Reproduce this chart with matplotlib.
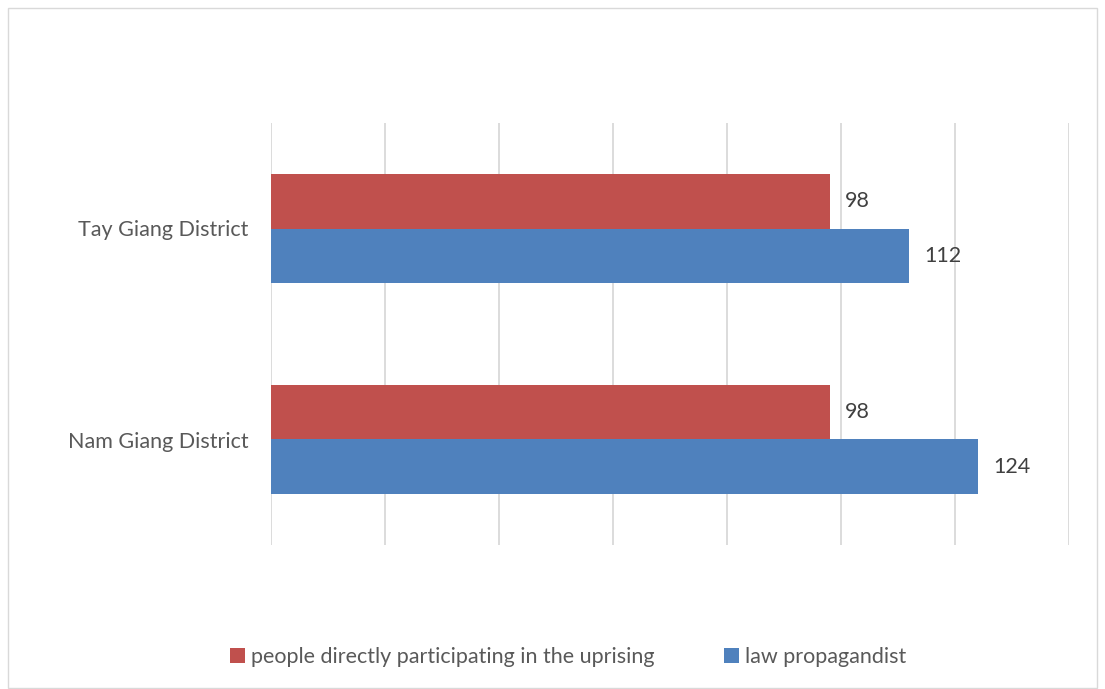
import numpy as np
import matplotlib.pyplot as plt
from matplotlib.patches import Rectangle

plt.rcParams['font.family'] = ['Lato', 'DejaVu Sans']

districts = ['Nam Giang District', 'Tay Giang District']
uprising = [98, 98]
propagandist = [124, 112]
series_names = ['people directly participating in the uprising', 'law propagandist']

fig = plt.figure(figsize=(11.05, 6.89), dpi=100)
fig.patches.append(Rectangle((8/1105, 0.002), 1 - 16/1105, 1 - 8/689 - 0.002,
                             transform=fig.transFigure, fill=False,
                             edgecolor='#D9D9D9', linewidth=1))
ax = fig.add_axes([271/1105, 1 - 545/689, (1069 - 271)/1105, (545 - 123)/689])

y = np.arange(len(districts))
h = 0.26
b1 = ax.barh(y + h/2, uprising, height=h, color='#C0504D', label=series_names[0], zorder=3)
b2 = ax.barh(y - h/2, propagandist, height=h, color='#4F81BD', label=series_names[1], zorder=3)

for bars in (b1, b2):
    for r in bars:
        ax.annotate(str(int(r.get_width())), (r.get_width(), r.get_y() + r.get_height()/2),
                    xytext=(11, 0), textcoords='offset points', va='center', ha='left',
                    fontsize=15.5, color='#404040')

ax.set_xlim(0, 140)
ax.set_ylim(-0.5, 1.5)
ax.set_xticks(np.arange(0, 141, 20))
ax.xaxis.grid(True, color='#D9D9D9', linewidth=1.3, zorder=0)
ax.tick_params(axis='x', length=0, labelbottom=False)
ax.tick_params(axis='y', length=0, pad=16, labelsize=15.5, labelcolor='#595959')
ax.set_yticks(y)
ax.set_yticklabels(districts)
for s in ax.spines.values():
    s.set_visible(False)

fig.legend(loc='center', bbox_to_anchor=(0.514, 1 - 657/689), ncol=2, frameon=False,
           fontsize=15.5, labelcolor='#595959', handlelength=0.7, handleheight=0.7,
           handletextpad=0.3, columnspacing=3.2)

fig.savefig('out.png', dpi=100)
